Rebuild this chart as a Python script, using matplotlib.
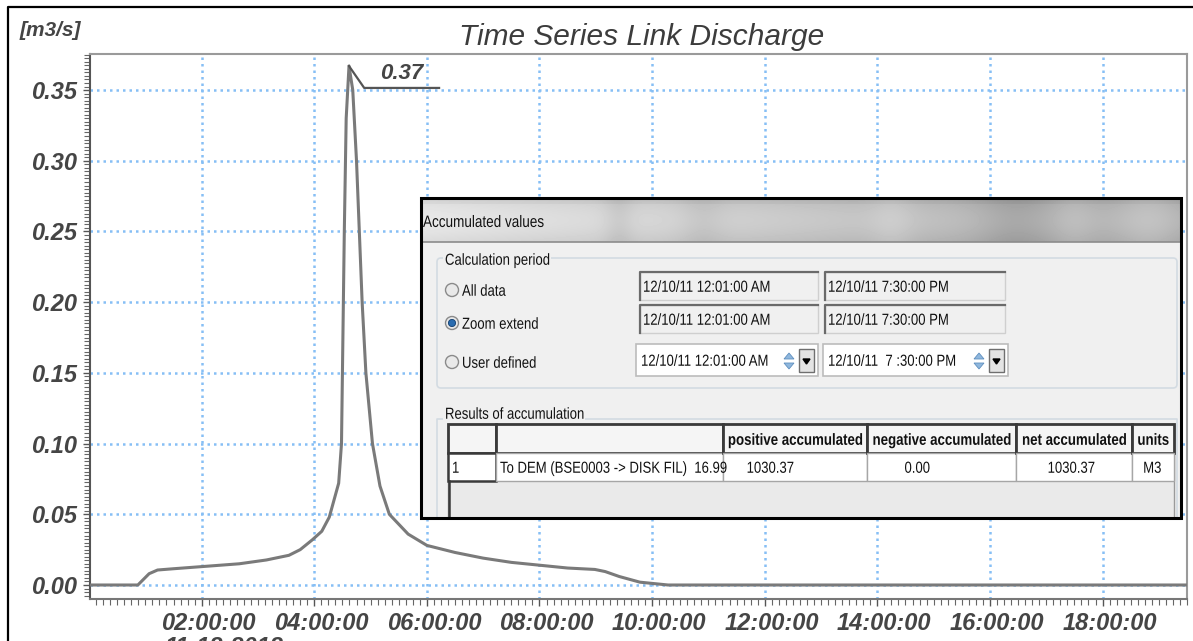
import numpy as np
import matplotlib
matplotlib.use("Agg")
import matplotlib.pyplot as plt
import matplotlib.transforms as mtransforms
from matplotlib.ticker import MultipleLocator, FuncFormatter
from matplotlib.patches import Rectangle, FancyBboxPatch, Circle, Polygon, PathPatch
from matplotlib.textpath import TextPath
from matplotlib.font_manager import FontProperties

# link discharge, 11-12-2012 (time of day -> m3/s)
times = ["00:01", "00:52", "00:58", "01:04", "01:13", "01:30", "02:00", "02:40",
         "03:09", "03:33", "03:45", "03:58", "04:08", "04:16", "04:26", "04:29",
         "04:31", "04:32", "04:34", "04:37", "04:41", "04:45", "04:48", "04:51",
         "04:55", "05:02", "05:10", "05:20", "05:40", "06:00", "06:30", "07:00",
         "07:30", "08:00", "08:30", "08:59", "09:10", "09:25", "09:47", "10:17",
         "19:30"]
discharge = [0.0, 0.0, 0.004, 0.008, 0.0106, 0.0115, 0.013, 0.015,
             0.0177, 0.021, 0.025, 0.032, 0.038, 0.048, 0.072, 0.10,
             0.20, 0.25, 0.33, 0.367, 0.35, 0.30, 0.25, 0.20,
             0.15, 0.10, 0.07, 0.05, 0.036, 0.028, 0.023, 0.019,
             0.016, 0.014, 0.012, 0.011, 0.0095, 0.006, 0.002, 0.0,
             0.0]
date_label = "11-12-2012"

# accumulation dialog contents
period_options = ["All data", "Zoom extend", "User defined"]
period_start = "12/10/11 12:01:00 AM"
period_end = "12/10/11 7:30:00 PM"
period_end_picker = "12/10/11  7 :30:00 PM"
result_headers = ["", "", "positive accumulated", "negative accumulated", "net accumulated", "units"]
result_row = ["1", "To DEM (BSE0003 -> DISK FIL)  16.99", "1030.37", "0.00", "1030.37", "M3"]

hours = [int(t[:2]) + int(t[3:]) / 60 for t in times]

W, H = 1193, 641
fig = plt.figure(figsize=(W / 100, H / 100), dpi=100)
fig.patch.set_facecolor("white")

font = "Liberation Sans"
lab_col = "#454545"

ax = fig.add_axes([90 / W, 1 - 599 / H, (1187 - 90) / W, (599 - 54) / H])
ax.plot(hours, discharge, color="#7a7a7a", lw=2.2, zorder=3, solid_joinstyle="round")
ax.set_xlim(1 / 60, 19.5)
ax.set_ylim(-0.0099, 0.3755)

ax.xaxis.set_major_locator(MultipleLocator(2))
ax.xaxis.set_minor_locator(MultipleLocator(0.125))
ax.yaxis.set_major_locator(MultipleLocator(0.05))
ax.yaxis.set_minor_locator(MultipleLocator(0.0025))
ax.xaxis.set_major_formatter(FuncFormatter(lambda v, p: "%02d:00:00" % round(v) if round(v) > 0 else ""))
ax.yaxis.set_major_formatter(FuncFormatter(lambda v, p: "%.2f" % v))
ax.tick_params(which="major", length=5, width=1, color="#555555", pad=4,
               labelsize=17, labelcolor=lab_col)
ax.tick_params(which="minor", length=4, width=0.8, color="#666666")
ax.tick_params(top=False, right=False)
shift = mtransforms.ScaledTranslation(7 / 100, 0, fig.dpi_scale_trans)
for lbl in ax.get_xticklabels():
    lbl.set_transform(lbl.get_transform() + shift)
for lbl in ax.get_xticklabels() + ax.get_yticklabels():
    lbl.set_fontstyle("italic")
    lbl.set_fontweight("bold")
    lbl.set_fontfamily(font)
ax.grid(True, which="major", color="#86bff5", lw=1.8, ls=(0, (1, 1.6)), zorder=1)
for s in ax.spines.values():
    s.set_color("#9a9a9a")
    s.set_linewidth(1.5)
ax.spines["left"].set_color("#555555")
ax.spines["bottom"].set_color("#777777")

# peak marker
i_pk = int(np.argmax(discharge))
t_pk, q_pk = hours[i_pk], discharge[i_pk]
ax.plot([t_pk, t_pk + 0.27, t_pk + 1.6], [q_pk, q_pk - 0.0155, q_pk - 0.0155],
        color="#555555", lw=1.6, zorder=4)
ax.text(t_pk + 0.93, q_pk - 0.0125, "%.2f" % q_pk, ha="center", va="bottom",
        fontsize=16, fontstyle="italic", fontweight="bold", color=lab_col, family=font)

fig.text(0.5 * (90 + 1187) / W + 3 / W, 1 - 37 / H, "Time Series Link Discharge", ha="center",
         va="center", fontsize=21.5, fontstyle="italic", color="#3c3c3c", family=font)
fig.text(20 / W, 1 - 31 / H, "[m3/s]", ha="left", va="center", fontsize=15,
         fontstyle="italic", fontweight="bold", color=lab_col, family=font)
fig.text(165 / W, 1 - 636 / H, date_label, ha="left", va="top", fontsize=17,
         fontstyle="italic", fontweight="bold", color=lab_col, family=font)

# overlay in pixel units for the frame and the dialog
ov = fig.add_axes([0, 0, 1, 1], zorder=5)
ov.set_xlim(0, W)
ov.set_ylim(H, 0)
ov.axis("off")
ov.patch.set_alpha(0)
ov.plot([8, 8, W], [H, 7, 7], color="black", lw=1.6)


def ui_text(x, y, s, size=16, sx=0.82, ha="left", bold=False, color="#111111", z=6, bg=None):
    # narrow dialog text: glyph outlines squeezed horizontally
    fp = FontProperties(family=font, weight="bold" if bold else "normal")
    tp = TextPath((0, 0), s, size=size, prop=fp)
    w = tp.get_extents().x1 * sx
    if ha == "center":
        x -= w / 2
    elif ha == "right":
        x -= w
    if bg:
        ov.add_patch(Rectangle((x - 2, y - 0.55 * size), w + 4, 1.1 * size, fc=bg, ec="none", zorder=z - 1))
    tr = mtransforms.Affine2D().scale(sx, -1).translate(x, y + 0.36 * size)
    ov.add_patch(PathPatch(tr.transform_path(tp), fc=color, ec="none", lw=0, zorder=z))


x0, x1, y0, y1 = 421, 1181, 198, 518
ov.add_patch(Rectangle((x0, y0), x1 - x0, y1 - y0, fc="#f0f0f0", ec="none"))

# title bar
bw = x1 - x0
gx = np.linspace(0, 1, bw)
base = 0.86 - 0.24 * gx
for c, w, d in [(0.26, 0.02, -0.05), (0.37, 0.03, -0.04), (0.62, 0.03, 0.04),
                (0.78, 0.05, -0.06), (0.86, 0.03, 0.04), (0.96, 0.05, 0.08)]:
    base = base + d * np.exp(-((gx - c) / w) ** 2)
gy = np.linspace(0, 1, 44)
shade = 0.05 * np.sin(np.pi * gy) - 0.03 * (gy < 0.12)
bar = np.clip(base[None, :] + shade[:, None], 0, 1)
ov.imshow(bar, cmap="gray", vmin=0, vmax=1, extent=(x0, x1, 242, y0), aspect="auto",
          interpolation="bilinear", zorder=2)
ov.plot([x0, x1], [242, 242], color="#8c8c8c", lw=1.2, zorder=3)
ui_text(423, 221, "Accumulated values", size=16.5)
ov.add_patch(Rectangle((x0, y0), x1 - x0, y1 - y0, fc="none", ec="black", lw=2.2, zorder=8))

# calculation period group
ov.add_patch(FancyBboxPatch((437, 258), 1177 - 437, 388 - 258, boxstyle="round,pad=0,rounding_size=4",
                            fc="none", ec="#d3dbe2", lw=1.2, zorder=2))
ui_text(445, 259, "Calculation period", bg="#f0f0f0")
for k, (lbl, yy) in enumerate(zip(period_options, [290, 323, 362])):
    ov.add_patch(Circle((452, yy), 6.5, fc="#e9e9e9", ec="#8a8a8a", lw=1, zorder=3))
    if k == 1:
        ov.add_patch(Circle((452, yy), 3.6, fc="#2a6cb0", ec="#123f70", lw=0.6, zorder=4))
    ui_text(462, yy, lbl)


def readonly_box(xa, xb, ya, yb, txt):
    ov.add_patch(Rectangle((xa, ya), xb - xa, yb - ya, fc="#f0f0f0", ec="#cfcfcf", lw=1, zorder=3))
    ov.plot([xa, xa, xb], [yb, ya, ya], color="#6a6a6a", lw=1.6, zorder=4)
    ui_text(xa + 3, (ya + yb) / 2, txt)


for ya, yb in [(272, 300), (305, 333)]:
    readonly_box(640, 818, ya, yb, period_start)
    readonly_box(825, 1005, ya, yb, period_end)


def picker(xa, xb, txt):
    ya, yb = 344, 376
    ov.add_patch(Rectangle((xa, ya), xb - xa, yb - ya, fc="white", ec="#bcbcbc", lw=1.2, zorder=3))
    ui_text(xa + 5, (ya + yb) / 2, txt)
    sx = xb - 34
    ov.add_patch(Polygon([[sx, 359], [sx + 10, 359], [sx + 5, 353]], fc="#8fb7dd", ec="#5f8fbf", lw=0.6, zorder=4))
    ov.add_patch(Polygon([[sx, 363], [sx + 10, 363], [sx + 5, 369]], fc="#8fb7dd", ec="#5f8fbf", lw=0.6, zorder=4))
    ov.add_patch(Rectangle((xb - 19, 349), 15, 23, fc="#e4e4e4", ec="#6f6f6f", lw=1, zorder=4))
    ov.add_patch(Polygon([[xb - 15, 359], [xb - 8, 359], [xb - 11.5, 364]], fc="black", ec="black", zorder=5))


picker(636, 818, period_start)
picker(823, 1008, period_end_picker)

# results group and table (cut by the dialog's lower edge)
ov.plot([437, 437, 1177, 1177], [y1, 419, 419, y1], color="#d3dbe2", lw=1.2, zorder=2)
ui_text(445, 413, "Results of accumulation", bg="#f0f0f0")
cols = [448, 496, 723, 867, 1016, 1132, 1174]
ov.add_patch(Rectangle((448, 424), 1174 - 448, y1 - 424, fc="#eaeaea", ec="#9a9a9a", lw=1, zorder=3))
for j in range(len(cols) - 1):
    xa, xb = cols[j], cols[j + 1]
    ov.add_patch(Rectangle((xa, 424), xb - xa, 29, fc="#f5f5f5", ec="#3a3a3a", lw=2, zorder=4))
    if result_headers[j]:
        ui_text((xa + xb) / 2, 439, result_headers[j], ha="center", bold=True, size=16.2)
    ov.add_patch(Rectangle((xa, 453), xb - xa, 28, fc="white",
                           ec="#3a3a3a" if j == 0 else "#a6a6a6", lw=1.8 if j == 0 else 1, zorder=4))
cell_x = [452, 500, 770, 917, 1071, 1152]
for j, txt in enumerate(result_row):
    ui_text(cell_x[j], 467, txt, ha="left" if j < 2 else "center")
ov.plot([449, 449], [481, y1], color="#3a3a3a", lw=1.8, zorder=5)

fig.savefig("out.png", dpi=100)
